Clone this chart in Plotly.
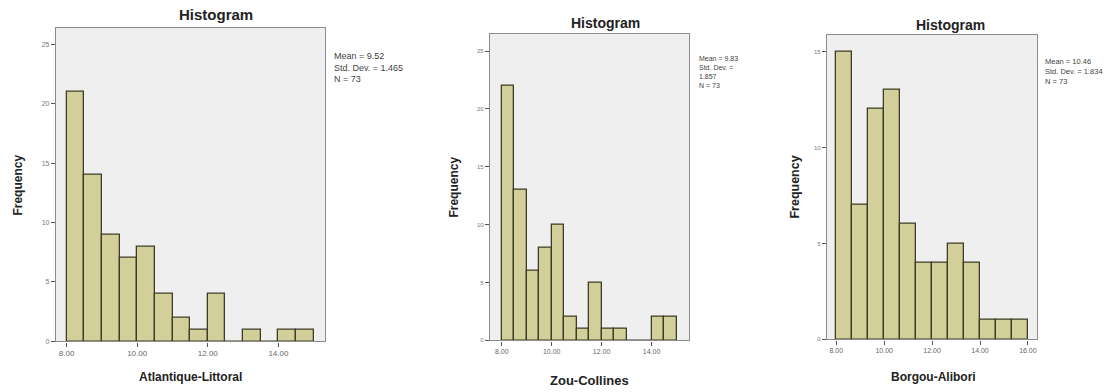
import plotly.graph_objects as go

W, H = 1118, 392

# ---- data ----
regions = ["Atlantique-Littoral", "Zou-Collines", "Borgou-Alibori"]
counts_atl = [21, 14, 9, 7, 8, 4, 2, 1, 4, 0, 1, 0, 1, 1]
counts_zou = [22, 13, 6, 8, 10, 2, 1, 5, 1, 1, 0, 0, 2, 2]
counts_bor = [15, 7, 12, 13, 6, 4, 4, 5, 4, 1, 1, 1]
bin_start = [8.0, 8.0, 8.0]
bin_width = [0.5, 0.5, 2.0 / 3.0]
stats_text = [
    "Mean = 9.52<br>Std. Dev. = 1.465<br>N = 73",
    "Mean = 9.83<br>Std. Dev. =<br>1.857<br>N = 73",
    "Mean = 10.46<br>Std. Dev. = 1.834<br>N = 73",
]
x_ticks = [[8, 10, 12, 14], [8, 10, 12, 14], [8, 10, 12, 14, 16]]
y_ticks = [[0, 5, 10, 15, 20, 25], [0, 5, 10, 15, 20, 25], [0, 5, 10, 15]]
all_counts = [counts_atl, counts_zou, counts_bor]

# ---- layout geometry (pixels) ----
boxes = [  # left, right, top, bottom
    (56, 325, 28, 344),
    (490, 689, 34, 343),
    (827, 1037, 35, 342),
]
x_ranges = [[7.70, 15.32], [7.53, 15.50], [7.61, 16.38]]
y_ranges = [[0, 26.4], [0, 26.5], [0, 15.87]]
tick_sizes = [8, 7, 7]
stat_pos = [(332, 49, 9, 11), (697, 53, 7, 8.5), (1043, 55, 7.5, 9)]
title_pos = [(216, 15, 15), (605, 23, 14), (950, 25, 14)]
xtitle_pos = [(190, 380, 12), (589, 383, 13), (933, 380, 12)]
ytitle_pos = [(18, 187, 12), (454, 189, 12), (795, 189, 12.5)]

BAR_FILL = "#d3cf9b"
BAR_LINE = "#3e3c25"
AXIS_COL = "#8c8c8c"
FONT = "Liberation Sans"

fig = go.Figure()
annotations = []
for i in range(3):
    cnt = all_counts[i]
    centers = [bin_start[i] + bin_width[i] * (k + 0.5) for k in range(len(cnt))]
    xa = "x" if i == 0 else f"x{i+1}"
    ya = "y" if i == 0 else f"y{i+1}"
    fig.add_trace(go.Bar(
        x=centers, y=cnt, width=bin_width[i],
        marker=dict(color=BAR_FILL, line=dict(color=BAR_LINE, width=1.3)),
        xaxis=xa, yaxis=ya, showlegend=False, hoverinfo="x+y",
    ))
    l, r, t, b = boxes[i]
    axk = "xaxis" if i == 0 else f"xaxis{i+1}"
    ayk = "yaxis" if i == 0 else f"yaxis{i+1}"
    fig.layout[axk] = dict(
        domain=[l / W, r / W], range=x_ranges[i], anchor=ya,
        tickvals=x_ticks[i], tickformat=".2f",
        showline=True, mirror=True, linecolor=AXIS_COL, linewidth=1.3,
        ticks="outside", ticklen=4, tickcolor="#555555", tickwidth=1,
        showgrid=False, zeroline=False,
        tickfont=dict(family=FONT, size=tick_sizes[i], color="#666666"),
        fixedrange=True,
    )
    fig.layout[ayk] = dict(
        domain=[1 - b / H, 1 - t / H], range=y_ranges[i], anchor=xa,
        tickvals=y_ticks[i],
        showline=True, mirror=True, linecolor=AXIS_COL, linewidth=1.3,
        ticks="outside", ticklen=4, tickcolor="#555555", tickwidth=1,
        showgrid=False, zeroline=False,
        tickfont=dict(family=FONT, size=tick_sizes[i] - 1, color="#777777"),
        fixedrange=True,
    )
    sx, sy, ss, lh = stat_pos[i]
    annotations.append(dict(
        text=stats_text[i], x=sx / W, y=1 - sy / H, xref="paper", yref="paper",
        xanchor="left", yanchor="top", align="left", showarrow=False,
        font=dict(family=FONT, size=ss, color="#444444"),
    ))
    tx, ty, ts = title_pos[i]
    annotations.append(dict(
        text="<b>Histogram</b>", x=tx / W, y=1 - ty / H, xref="paper", yref="paper",
        xanchor="center", yanchor="middle", showarrow=False,
        font=dict(family=FONT, size=ts, color="#222222"),
    ))
    xx, xy, xs = xtitle_pos[i]
    annotations.append(dict(
        text=f"<b>{regions[i]}</b>", x=xx / W, y=1 - xy / H, xref="paper", yref="paper",
        xanchor="center", yanchor="middle", showarrow=False,
        font=dict(family=FONT, size=xs, color="#222222"),
    ))
    yx, yy, ys = ytitle_pos[i]
    annotations.append(dict(
        text="<b>Frequency</b>", x=yx / W, y=1 - yy / H, xref="paper", yref="paper",
        xanchor="center", yanchor="middle", showarrow=False, textangle=-90,
        font=dict(family=FONT, size=ys, color="#222222"),
    ))

fig.update_layout(
    width=W, height=H, margin=dict(l=0, r=0, t=0, b=0),
    paper_bgcolor="white", plot_bgcolor="#efefef",
    bargap=0, annotations=annotations,
)

fig.write_html("out.html", config={"displayModeBar": False})
